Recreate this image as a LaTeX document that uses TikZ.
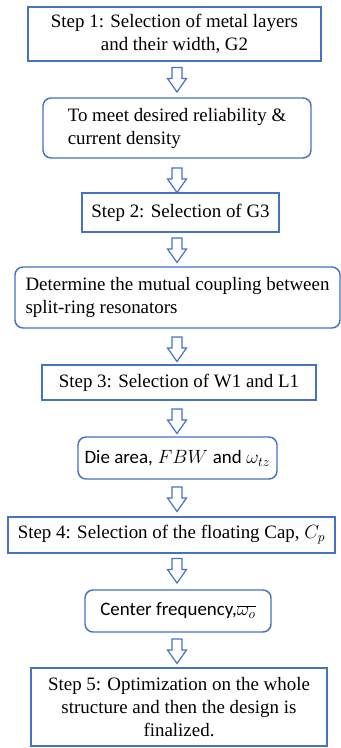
\documentclass[tikz,border=0pt]{standalone}
\usepackage{fontspec}
\setmainfont{Liberation Serif}
\newfontfamily\calfont{Carlito}
\definecolor{boxblue}{RGB}{68,114,196}
\tikzset{
	boxsize/.style 2 args={minimum width=#1*0.75pt, minimum height=#2*0.75pt},
	stepbox/.style={draw=boxblue, line width=1.1pt, inner sep=0pt, align=center,
		font=\fontsize{14.2}{17.25}\selectfont},
	notebox/.style={stepbox, rounded corners=6pt, align=left},
	pics/downarrow/.style={code={
		\draw[boxblue, line width=0.9pt, line join=miter]
			(-5, -12) -- (5, -12) -- (5, -1) -- (9.5, -1) -- (0, 12.5)
			-- (-9.5, -1) -- (-5, -1) -- cycle;
	}}
}
\begin{document}
\begin{tikzpicture}[x=0.75pt, y=-0.75pt]
	\useasboundingbox (0, 0) rectangle (341, 748);
	
	\node[stepbox, boxsize={293}{54}] (s1) at (174.5, 34) {Step 1: Selection of metal layers\\and their width, G2};
	\node[notebox, boxsize={268}{60}] (n1) at (177, 128) {To meet desired reliability \&\\current density};
	\node[stepbox, boxsize={197}{39}] (s2) at (180.5, 212.5) {Step 2: Selection of G3};
	\node[notebox, boxsize={325}{61}] (n2) at (177.5, 297.5) {Determine the mutual coupling between\\split-ring resonators};
	\node[stepbox, boxsize={274}{35}] (s3) at (179, 382.5) {Step 3: Selection of W1 and L1};
	\node[notebox, boxsize={199}{42}, align=center] (n3) at (177.5, 458) {{\calfont Die area,} $FBW$ {\calfont and} $\omega_{tz}$};
	\node[stepbox, boxsize={327}{36}] (s4) at (171.5, 535) {Step 4: Selection of the floating Cap, $C_p$};
	\node[notebox, boxsize={186}{42}, align=center] (n4) at (178, 611) {{\calfont Center frequency,}$\overline{\omega_o}$};
	\node[stepbox, boxsize={296}{78}] (s5) at (179, 707) {Step 5: Optimization on the whole\\structure and then the design is\\finalized.};
	
	% block arrows between the boxes
	\pic (a1) at (177, 79.5) {downarrow};
	\pic (a2) at (177, 180) {downarrow};
	\pic (a3) at (177, 250) {downarrow};
	\pic (a4) at (177, 349) {downarrow};
	\pic (a5) at (177, 421) {downarrow};
	\pic (a6) at (177, 499) {downarrow};
	\pic (a7) at (177, 570.5) {downarrow};
	\pic (a8) at (177, 651) {downarrow};
\end{tikzpicture}
\end{document}
